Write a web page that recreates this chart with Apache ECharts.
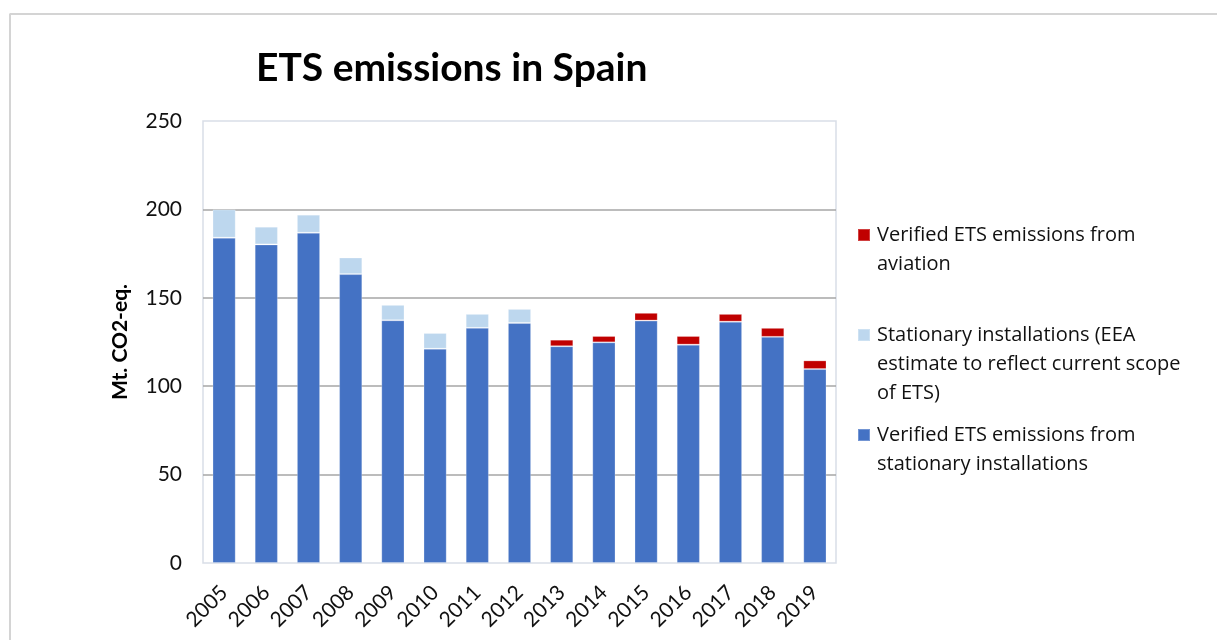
<!DOCTYPE html>
<html>
<head>
<meta charset="utf-8">
<script src="https://cdn.jsdelivr.net/npm/echarts@6/dist/echarts.min.js"></script>
<style>html,body{margin:0;padding:0;background:#fff}#c{width:1217px;height:640px}</style>
</head>
<body>
<div id="c"></div>
<script>
var years = ['2005','2006','2007','2008','2009','2010','2011','2012','2013','2014','2015','2016','2017','2018','2019'];
var stationary = [184, 180.2, 186.8, 163.4, 137.3, 121.2, 133, 135.8, 122.6, 124.8, 137.1, 123.5, 136.5, 127.9, 109.7];
var estimate = [16, 10, 10.2, 9.4, 8.7, 8.9, 7.9, 7.9, null, null, null, null, null, null, null];
var aviation = [null, null, null, null, null, null, null, null, 3.7, 3.6, 4.4, 4.9, 4.4, 5.1, 4.9];
var yTicks = [0, 50, 100, 150, 200, 250];

var nameAv = 'Verified ETS emissions from\naviation';
var nameEst = 'Stationary installations (EEA\nestimate to reflect current scope\nof ETS)';
var nameSt = 'Verified ETS emissions from\nstationary installations';

var FONT = 'Lato';
var LFONT = 'Open Sans';
var LH = 29;
function legendFor(name, iconCenter) {
  var lines = name.split('\n').length;
  var total = lines * 2 - 1;
  var pad = '';
  for (var i = 0; i < lines - 1; i++) pad += '\n';
  return {
    data: [name], left: 857, top: iconCenter - total * LH / 2, padding: 0, orient: 'vertical',
    icon: 'rect', itemWidth: 12, itemHeight: 12, itemGap: 0,
    selectedMode: false,
    formatter: function (n) { return pad + n; },
    textStyle: { fontFamily: LFONT, fontSize: 20, color: '#111', lineHeight: LH, padding: [0, 0, 0, 2] }
  };
}

var chart = echarts.init(document.getElementById('c'), null, { renderer: 'canvas' });
chart.setOption({
  animation: false,
  backgroundColor: '#fff',
  title: { text: 'ETS emissions in Spain', left: 251, top: 44, textStyle: { fontFamily: FONT, fontWeight: 'bold', fontSize: 39, color: '#000' } },
  legend: [legendFor(nameAv, 235), legendFor(nameEst, 335), legendFor(nameSt, 435)],
  grid: { left: 203, right: 381, top: 121, bottom: 77, show: true, borderColor: '#d9dee7', borderWidth: 1.5, backgroundColor: 'transparent' },
  xAxis: {
    type: 'category', data: years,
    axisTick: { show: false },
    axisLine: { show: false },
    axisLabel: { rotate: 45, fontFamily: FONT, fontSize: 21, color: '#111', margin: 26, interval: 0 }
  },
  yAxis: {
    type: 'value', min: 0, max: 250, interval: 50,
    name: 'Mt. CO2-eq.', nameLocation: 'middle', nameGap: 72, nameRotate: 90,
    nameTextStyle: { fontFamily: FONT, fontWeight: 'bold', fontSize: 21, color: '#000' },
    axisLine: { show: false }, axisTick: { show: false },
    axisLabel: { fontFamily: FONT, fontSize: 21, color: '#111', margin: 21,
      formatter: function (v) { return yTicks.indexOf(v) >= 0 ? String(v) : ''; } },
    splitLine: { lineStyle: { color: ['transparent', '#a6a6a6', '#a6a6a6', '#a6a6a6', '#a6a6a6', 'transparent'], width: 1.5 } }
  },
  series: [
    { name: nameSt, type: 'bar', stack: 'a', data: stationary, barWidth: '55%', itemStyle: { color: '#4472C4', borderColor: 'rgba(255,255,255,0.25)', borderWidth: 1 } },
    { name: nameEst, type: 'bar', stack: 'a', data: estimate, itemStyle: { color: '#BDD7EE', borderColor: 'rgba(255,255,255,0.25)', borderWidth: 1 } },
    { name: nameAv, type: 'bar', stack: 'a', data: aviation, itemStyle: { color: '#C00000', borderColor: 'rgba(255,255,255,0.25)', borderWidth: 1 } }
  ],
  graphic: [
    { type: 'line', shape: { x1: 9.5, y1: 14, x2: 1217, y2: 14 }, style: { stroke: '#d4d4d4', lineWidth: 2 }, silent: true },
    { type: 'line', shape: { x1: 10, y1: 14, x2: 10, y2: 640 }, style: { stroke: '#d4d4d4', lineWidth: 2 }, silent: true }
  ]
});
</script>
</body>
</html>
